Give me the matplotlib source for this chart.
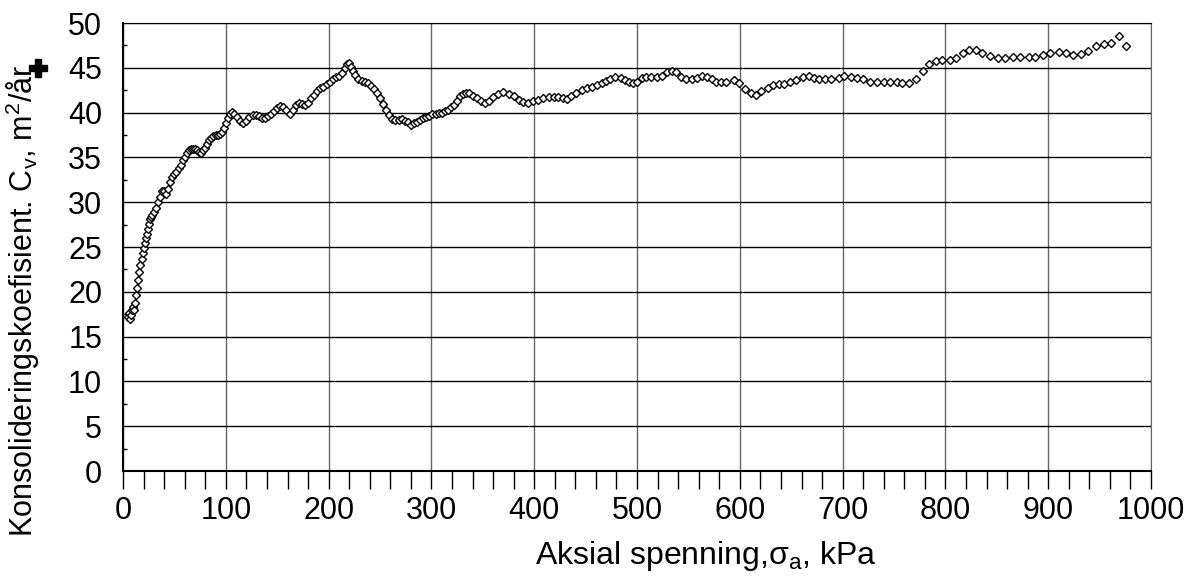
import matplotlib
matplotlib.use("Agg")
import matplotlib.pyplot as plt
from matplotlib.ticker import MultipleLocator
from matplotlib.lines import Line2D

plt.rcParams['font.family'] = ['Liberation Sans', 'DejaVu Sans']
plt.rcParams['mathtext.fontset'] = 'custom'
plt.rcParams['mathtext.rm'] = 'Liberation Sans'
plt.rcParams['mathtext.it'] = 'Liberation Sans'

# aksial spenning (kPa) og Cv (m2/år)
sigma_a = [5, 6, 7, 8, 9, 10, 11, 12, 13, 14, 15, 16, 17, 18, 19, 20, 21, 22, 23, 24,
           25, 26, 27, 28, 30, 32, 34, 36, 38, 40, 42, 44, 46, 48, 50, 52, 54, 56, 58, 60,
           62, 64, 66, 68, 70, 72, 74, 76, 78, 80, 82, 84, 86, 88, 90, 92, 94, 96, 98, 100,
           102, 104, 106, 108, 111, 114, 117, 120, 123, 126, 129, 132, 135, 138, 141, 144,
           147, 150, 153, 156, 159, 162, 165, 168, 171, 174, 177, 180, 183, 186, 189, 192,
           195, 198, 201, 204, 207, 210, 213, 216, 218, 220, 222, 224, 226, 229, 232, 235,
           238, 241, 244, 247, 250, 253, 256, 259, 262, 265, 268, 271, 274, 277, 280, 283,
           286, 289, 292, 295, 298, 301, 304, 307, 310, 313, 316, 319, 322, 325, 328, 331,
           334, 337, 340, 344, 348, 352, 356, 360, 365, 370, 375, 380, 385, 389, 394, 399,
           404, 409, 414, 419, 423, 428, 432, 436, 441, 446, 451, 456, 461, 466, 470, 474,
           479, 484, 488, 492, 496, 500, 505, 509, 514, 519, 524, 529, 534, 538, 543, 548,
           553, 558, 563, 568, 573, 577, 582, 587, 594, 599, 605, 611, 616, 621, 627, 632,
           638, 643, 649, 655, 661, 667, 672, 677, 683, 689, 696, 701, 708, 714, 720, 727,
           733, 740, 746, 753, 758, 765, 771, 778, 784, 791, 797, 804, 810, 817, 823, 830,
           836, 843, 851, 858, 866, 873, 881, 887, 895, 902, 910, 917, 924, 932, 939, 946,
           954, 961, 969, 976]
cv = [17.2, 17.6, 17.0, 17.4, 18.0, 18.3, 18.0, 18.8, 19.6, 20.4, 21.3, 22.2, 23.0, 23.7,
      24.3, 24.9, 25.4, 26.0, 26.5, 27.0, 27.6, 28.1, 28.4, 28.6, 28.9, 29.4, 30.0, 30.6,
      31.2, 31.3, 30.9, 31.5, 32.3, 32.8, 33.1, 33.4, 33.8, 34.2, 34.7, 35.1, 35.5, 35.8,
      35.9, 35.9, 35.9, 35.8, 35.6, 35.5, 35.8, 36.1, 36.5, 36.9, 37.2, 37.4, 37.5, 37.5,
      37.6, 37.8, 38.3, 38.8, 39.4, 39.9, 40.1, 39.9, 39.5, 39.1, 38.8, 39.1, 39.5, 39.7,
      39.7, 39.6, 39.4, 39.4, 39.6, 39.9, 40.2, 40.5, 40.7, 40.6, 40.3, 39.9, 40.3, 40.8,
      41.1, 41.0, 40.8, 41.1, 41.6, 42.0, 42.4, 42.7, 42.9, 43.2, 43.4, 43.7, 44.0, 44.1,
      44.4, 45.0, 45.4, 45.5, 45.1, 44.6, 44.2, 43.7, 43.5, 43.4, 43.3, 43.0, 42.6, 42.2,
      41.6, 41.0, 40.3, 39.7, 39.3, 39.2, 39.2, 39.3, 39.1, 38.9, 38.6, 38.8, 39.0, 39.2,
      39.4, 39.5, 39.6, 39.8, 39.9, 40.0, 40.0, 40.2, 40.3, 40.6, 40.9, 41.3, 41.8, 42.1,
      42.2, 42.2, 41.9, 41.6, 41.3, 41.1, 41.3, 41.7, 42.1, 42.3, 42.1, 41.8, 41.4, 41.2,
      41.1, 41.3, 41.4, 41.6, 41.7, 41.7, 41.7, 41.6, 41.5, 41.8, 42.2, 42.5, 42.7, 42.9,
      43.1, 43.3, 43.5, 43.7, 44.0, 43.9, 43.6, 43.4, 43.3, 43.4, 43.9, 44.0, 44.0, 44.0,
      44.1, 44.5, 44.7, 44.5, 44.0, 43.7, 43.7, 43.9, 44.1, 44.0, 43.8, 43.4, 43.4, 43.4,
      43.6, 43.3, 42.6, 42.2, 42.0, 42.4, 42.8, 43.1, 43.2, 43.2, 43.4, 43.6, 44.0, 44.1,
      43.9, 43.7, 43.7, 43.7, 43.9, 44.1, 44.0, 43.9, 43.7, 43.4, 43.4, 43.4, 43.4, 43.4,
      43.3, 43.3, 43.8, 44.6, 45.4, 45.8, 45.9, 45.9, 46.1, 46.6, 47.0, 47.0, 46.6, 46.3,
      46.1, 46.1, 46.2, 46.2, 46.2, 46.2, 46.4, 46.6, 46.8, 46.6, 46.4, 46.5, 46.9, 47.4,
      47.7, 47.8, 48.5, 47.4]

fig = plt.figure(figsize=(11.99, 5.77), dpi=100)
ax = fig.add_axes([0.1026, 0.1837, 0.8574, 0.7764])

ax.plot(sigma_a, cv, linestyle='none', marker='D', ms=3.6, mfc='white',
        mec='black', mew=1.0, zorder=3)

ax.set_xlim(0, 1000)
ax.set_ylim(0, 50)
ax.xaxis.set_major_locator(MultipleLocator(100))
ax.xaxis.set_minor_locator(MultipleLocator(20))
ax.yaxis.set_major_locator(MultipleLocator(5))
ax.yaxis.set_minor_locator(MultipleLocator(2.5))

ax.xaxis.grid(True, which='major', color='#666666', lw=1.0)
ax.yaxis.grid(True, which='major', color='black', lw=1.0)

ax.tick_params(axis='x', which='both', direction='out', length=13, width=1,
               labelsize=22, pad=5)
ax.tick_params(axis='y', which='major', length=0, labelsize=22, pad=15)
ax.tick_params(axis='y', which='minor', direction='in', length=3, width=1)

for s in ax.spines.values():
    s.set_color('black')
ax.spines['left'].set_linewidth(1.5)
ax.spines['bottom'].set_linewidth(1.5)
ax.spines['right'].set_color('#666666')

ax.set_xlabel('Aksial spenning,σ$_{\\mathrm{a}}$, kPa', fontsize=23, labelpad=9)
ax.xaxis.label.set_x(0.567)
ax.set_ylabel('Konsolideringskoefisient. C$_{\\mathrm{v}}$, m$^{2}$/år', fontsize=22)
ax.yaxis.set_label_coords(-0.079, 0.38)

# svart pluss ved aksetittelen
fig.add_artist(Line2D([38 / 1199], [1 - 68 / 577], marker='P', ms=13,
                      color='black', transform=fig.transFigure))

fig.savefig('out.png', dpi=100)
